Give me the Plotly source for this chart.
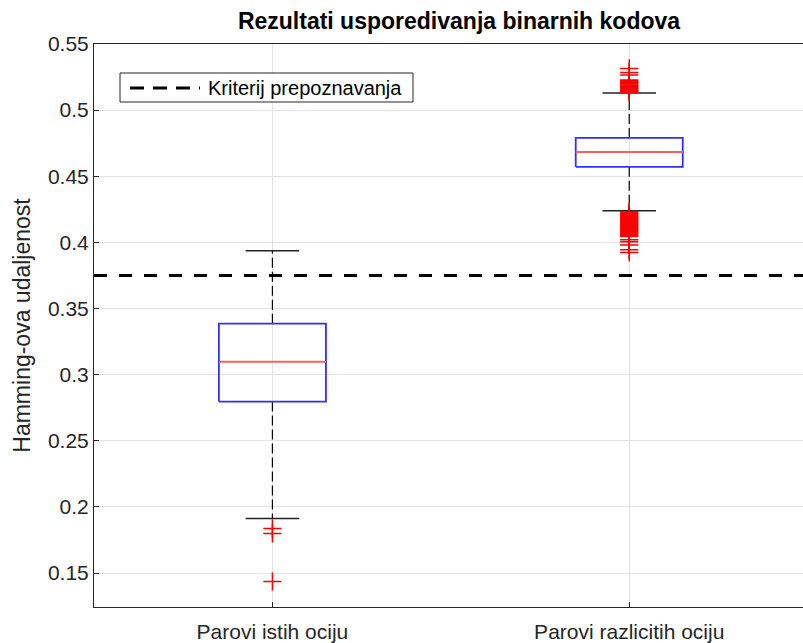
import plotly.graph_objects as go

# Group labels and box statistics (Hamming distance)
categories = ["Parovi istih ociju", "Parovi razlicitih ociju"]
positions = [1, 2]
q1 = [0.2796, 0.4571]
median = [0.3098, 0.4684]
q3 = [0.3385, 0.4790]
whisker_low = [0.1912, 0.4239]
whisker_high = [0.3937, 0.5130]

# Outliers per group
outliers_same = [0.1837, 0.1799, 0.1436]
outliers_diff = [
    0.5315, 0.5285, 0.5265, 0.5228, 0.5222, 0.5215, 0.5210, 0.5203, 0.5197,
    0.5190, 0.5185, 0.5178, 0.5170, 0.5165, 0.5160, 0.5153, 0.5147, 0.5140,
    0.5136,
    0.4232, 0.4225, 0.4218, 0.4212, 0.4205, 0.4200, 0.4193, 0.4187, 0.4180,
    0.4173, 0.4167, 0.4160, 0.4153, 0.4147, 0.4140, 0.4133, 0.4127, 0.4120,
    0.4113, 0.4107, 0.4100, 0.4094, 0.4088, 0.4080, 0.4073, 0.4066, 0.4060,
    0.4052, 0.4045, 0.4020, 0.4005, 0.3980, 0.3944, 0.3924,
]
outliers = [outliers_same, outliers_diff]

threshold = 0.375
threshold_label = "Kriterij prepoznavanja"

BOX_HALF = 0.15
CAP_HALF = 0.075
FONT = "Liberation Sans, Arial, sans-serif"
TEXT = "#262626"

fig = go.Figure()

for i, c in enumerate(positions):
    # whiskers (dashed)
    for a, b in ((q3[i], whisker_high[i]), (q1[i], whisker_low[i])):
        fig.add_trace(go.Scatter(
            x=[c, c], y=[a, b], mode="lines",
            line=dict(color="black", width=1.2, dash="10px,4px"),
            showlegend=False, hoverinfo="skip"))
    # whisker caps
    for v in (whisker_high[i], whisker_low[i]):
        fig.add_trace(go.Scatter(
            x=[c - CAP_HALF, c + CAP_HALF], y=[v, v], mode="lines",
            line=dict(color="#222222", width=1.5),
            showlegend=False, hoverinfo="skip"))
    # box
    fig.add_trace(go.Scatter(
        x=[c - BOX_HALF, c + BOX_HALF, c + BOX_HALF, c - BOX_HALF, c - BOX_HALF],
        y=[q1[i], q1[i], q3[i], q3[i], q1[i]], mode="lines",
        line=dict(color="#3030ff", width=1.8),
        showlegend=False, hoverinfo="skip"))
    # median
    fig.add_trace(go.Scatter(
        x=[c - BOX_HALF, c + BOX_HALF], y=[median[i], median[i]], mode="lines",
        line=dict(color="#ff5c5c", width=2),
        showlegend=False, hoverinfo="skip"))
    # outliers
    fig.add_trace(go.Scatter(
        x=[c] * len(outliers[i]), y=outliers[i], mode="markers",
        marker=dict(symbol="cross-thin", size=13,
                    line=dict(color="red", width=1.5)),
        showlegend=False, hoverinfo="skip"))

# recognition threshold
fig.add_trace(go.Scatter(
    x=[0.5, 2.5], y=[threshold, threshold], mode="lines",
    line=dict(color="black", width=3, dash="13px,12px"),
    showlegend=False, hoverinfo="skip"))

# legend box
fig.add_shape(type="rect", xref="paper", yref="paper",
              x0=26 / 709, x1=319 / 709, y0=(607 - 102) / 563, y1=(607 - 73) / 563,
              line=dict(color="#262626", width=1), fillcolor="white", layer="above")
fig.add_shape(type="line", xref="paper", yref="paper",
              x0=36 / 709, x1=106 / 709, y0=(607 - 88) / 563, y1=(607 - 88) / 563,
              line=dict(color="black", width=3, dash="14px,9px"), layer="above")
fig.add_annotation(text=threshold_label, xref="paper", yref="paper",
                   x=112 / 709, y=(607 - 88) / 563, xanchor="left", yanchor="middle",
                   showarrow=False, font=dict(family=FONT, size=20, color="black"))

fig.update_layout(
    width=803, height=643,
    margin=dict(l=94, r=0, t=44, b=36),
    paper_bgcolor="white", plot_bgcolor="white",
    font=dict(family=FONT, size=20, color=TEXT),
    title=dict(text="<b>Rezultati usporedivanja binarnih kodova</b>",
               x=459 / 803, xanchor="center",
               y=1 - 21 / 643, yanchor="middle",
               font=dict(family=FONT, size=23, color="black")),
    showlegend=False,
)

fig.update_xaxes(
    range=[0.5, 2.487], tickmode="array", tickvals=positions, ticktext=categories,
    showgrid=True, gridcolor="#e3e3e3", gridwidth=1,
    showline=True, linecolor="#262626", linewidth=1, mirror=True,
    ticks="inside", ticklen=5, tickcolor="#262626",
    tickfont=dict(family=FONT, size=21, color=TEXT), zeroline=False,
    ticklabelstandoff=6,
)
fig.update_yaxes(
    range=[0.1243, 0.55], tickmode="array",
    tickvals=[0.15, 0.2, 0.25, 0.3, 0.35, 0.4, 0.45, 0.5, 0.55],
    ticktext=["0.15", "0.2", "0.25", "0.3", "0.35", "0.4", "0.45", "0.5", "0.55"],
    showgrid=True, gridcolor="#e3e3e3", gridwidth=1,
    showline=True, linecolor="#262626", linewidth=1,
    ticks="inside", ticklen=5, tickcolor="#262626",
    tickfont=dict(family=FONT, size=21, color=TEXT), zeroline=False,
    title=dict(text="Hamming-ova udaljenost", standoff=10,
               font=dict(family=FONT, size=23, color=TEXT)),
)

fig.write_html("out.html")
